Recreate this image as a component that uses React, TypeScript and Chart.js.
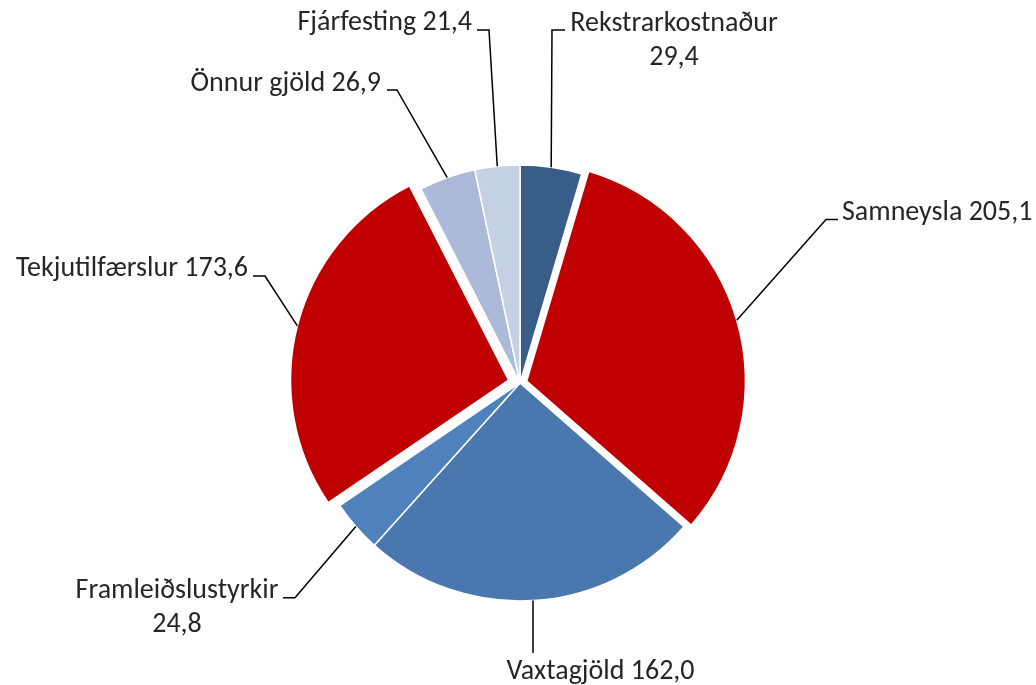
import React, { useEffect, useRef } from 'react';
import { Chart, registerables } from 'chart.js';

Chart.register(...registerables);

const categories = [
  'Rekstrarkostnaður',
  'Samneysla',
  'Vaxtagjöld',
  'Framleiðslustyrkir',
  'Tekjutilfærslur',
  'Önnur gjöld',
  'Fjárfesting',
];
const values = [29.4, 205.1, 162.0, 24.8, 173.6, 26.9, 21.4];
const colors = ['#375D88', '#C00000', '#4A77AE', '#4F82BD', '#C00000', '#AABAD8', '#C4D0E3'];
const offsets = [0, 28, 0, 0, 47, 0, 0];

// label layout (annotation positions, not data)
const labelLayout: any[] = [
  { elbow: [552, 30], tick: [565, 30], align: 'center', tx: 674, ty: 31, split: true },
  { elbow: [826, 219.5], tick: [838, 219.5], align: 'left', tx: 842, ty: 220 },
  { elbow: null, tick: [533, 653], align: 'center', tx: 600.5, ty: 679 },
  { elbow: [295, 597.7], tick: [283, 597.7], align: 'center', tx: 177, ty: 597.7, split: true },
  { elbow: [265, 276], tick: [253, 276], align: 'right', tx: 248, ty: 276 },
  { elbow: [397, 90], tick: [387, 90], align: 'right', tx: 381, ty: 90.7 },
  { elbow: [489, 30], tick: [477, 30], align: 'right', tx: 472, ty: 29.5 },
];

const fmt = (v: number) => v.toFixed(1).replace('.', ',');

const labelPlugin = {
  id: 'leaderLabels',
  afterDraw(chart: any) {
    const ctx = chart.ctx;
    const meta = chart.getDatasetMeta(0);
    ctx.save();
    meta.data.forEach((arc: any, i: number) => {
      const lay = labelLayout[i];
      const { x, y, startAngle, endAngle, outerRadius } = arc.getProps(
        ['x', 'y', 'startAngle', 'endAngle', 'outerRadius'],
        true
      );
      const circ = endAngle - startAngle;
      const off = (arc.options.offset || 0) / 4;
      const fix = 1 - Math.sin(Math.min(Math.PI, circ));
      const disp = off * (1 + fix);
      const mid = (startAngle + endAngle) / 2;
      const ax = x + Math.cos(mid) * (outerRadius + disp);
      const ay = y + Math.sin(mid) * (outerRadius + disp);

      ctx.strokeStyle = '#000000';
      ctx.lineWidth = 1.5;
      ctx.beginPath();
      ctx.moveTo(ax, ay);
      if (lay.elbow) ctx.lineTo(lay.elbow[0], lay.elbow[1]);
      ctx.lineTo(lay.tick[0], lay.tick[1]);
      ctx.stroke();

      ctx.fillStyle = '#262626';
      ctx.font = '28px Carlito, Lato, sans-serif';
      ctx.textAlign = lay.align;
      ctx.textBaseline = 'alphabetic';
      const name = categories[i];
      const val = fmt(values[i]);
      if (lay.split) {
        ctx.fillText(name, lay.tx, lay.ty);
        ctx.fillText(val, lay.tx, lay.ty + 34);
      } else {
        ctx.fillText(name + ' ' + val, lay.tx, lay.ty);
      }
    });
    ctx.restore();
  },
};

export default function App() {
  const ref = useRef<HTMLCanvasElement | null>(null);
  useEffect(() => {
    if (!ref.current) return;
    const chart = new Chart(ref.current, {
      type: 'pie',
      data: {
        labels: categories,
        datasets: [
          {
            data: values,
            backgroundColor: colors,
            borderColor: '#ffffff',
            borderWidth: 1.5,
            offset: offsets,
          },
        ],
      },
      options: {
        responsive: false,
        animation: false,
        radius: 218,
        layout: { padding: { left: 4, right: 0, top: 81, bottom: 0 } },
        plugins: {
          legend: { display: false },
          tooltip: { enabled: false },
        },
      } as any,
      plugins: [labelPlugin],
    });
    return () => chart.destroy();
  }, []);
  return (
    <div style={{ position: 'absolute', left: 0, top: 0, width: 1036, height: 685, background: '#fff' }}>
      <canvas ref={ref} width={1036} height={685} style={{ display: 'block' }} />
    </div>
  );
}
